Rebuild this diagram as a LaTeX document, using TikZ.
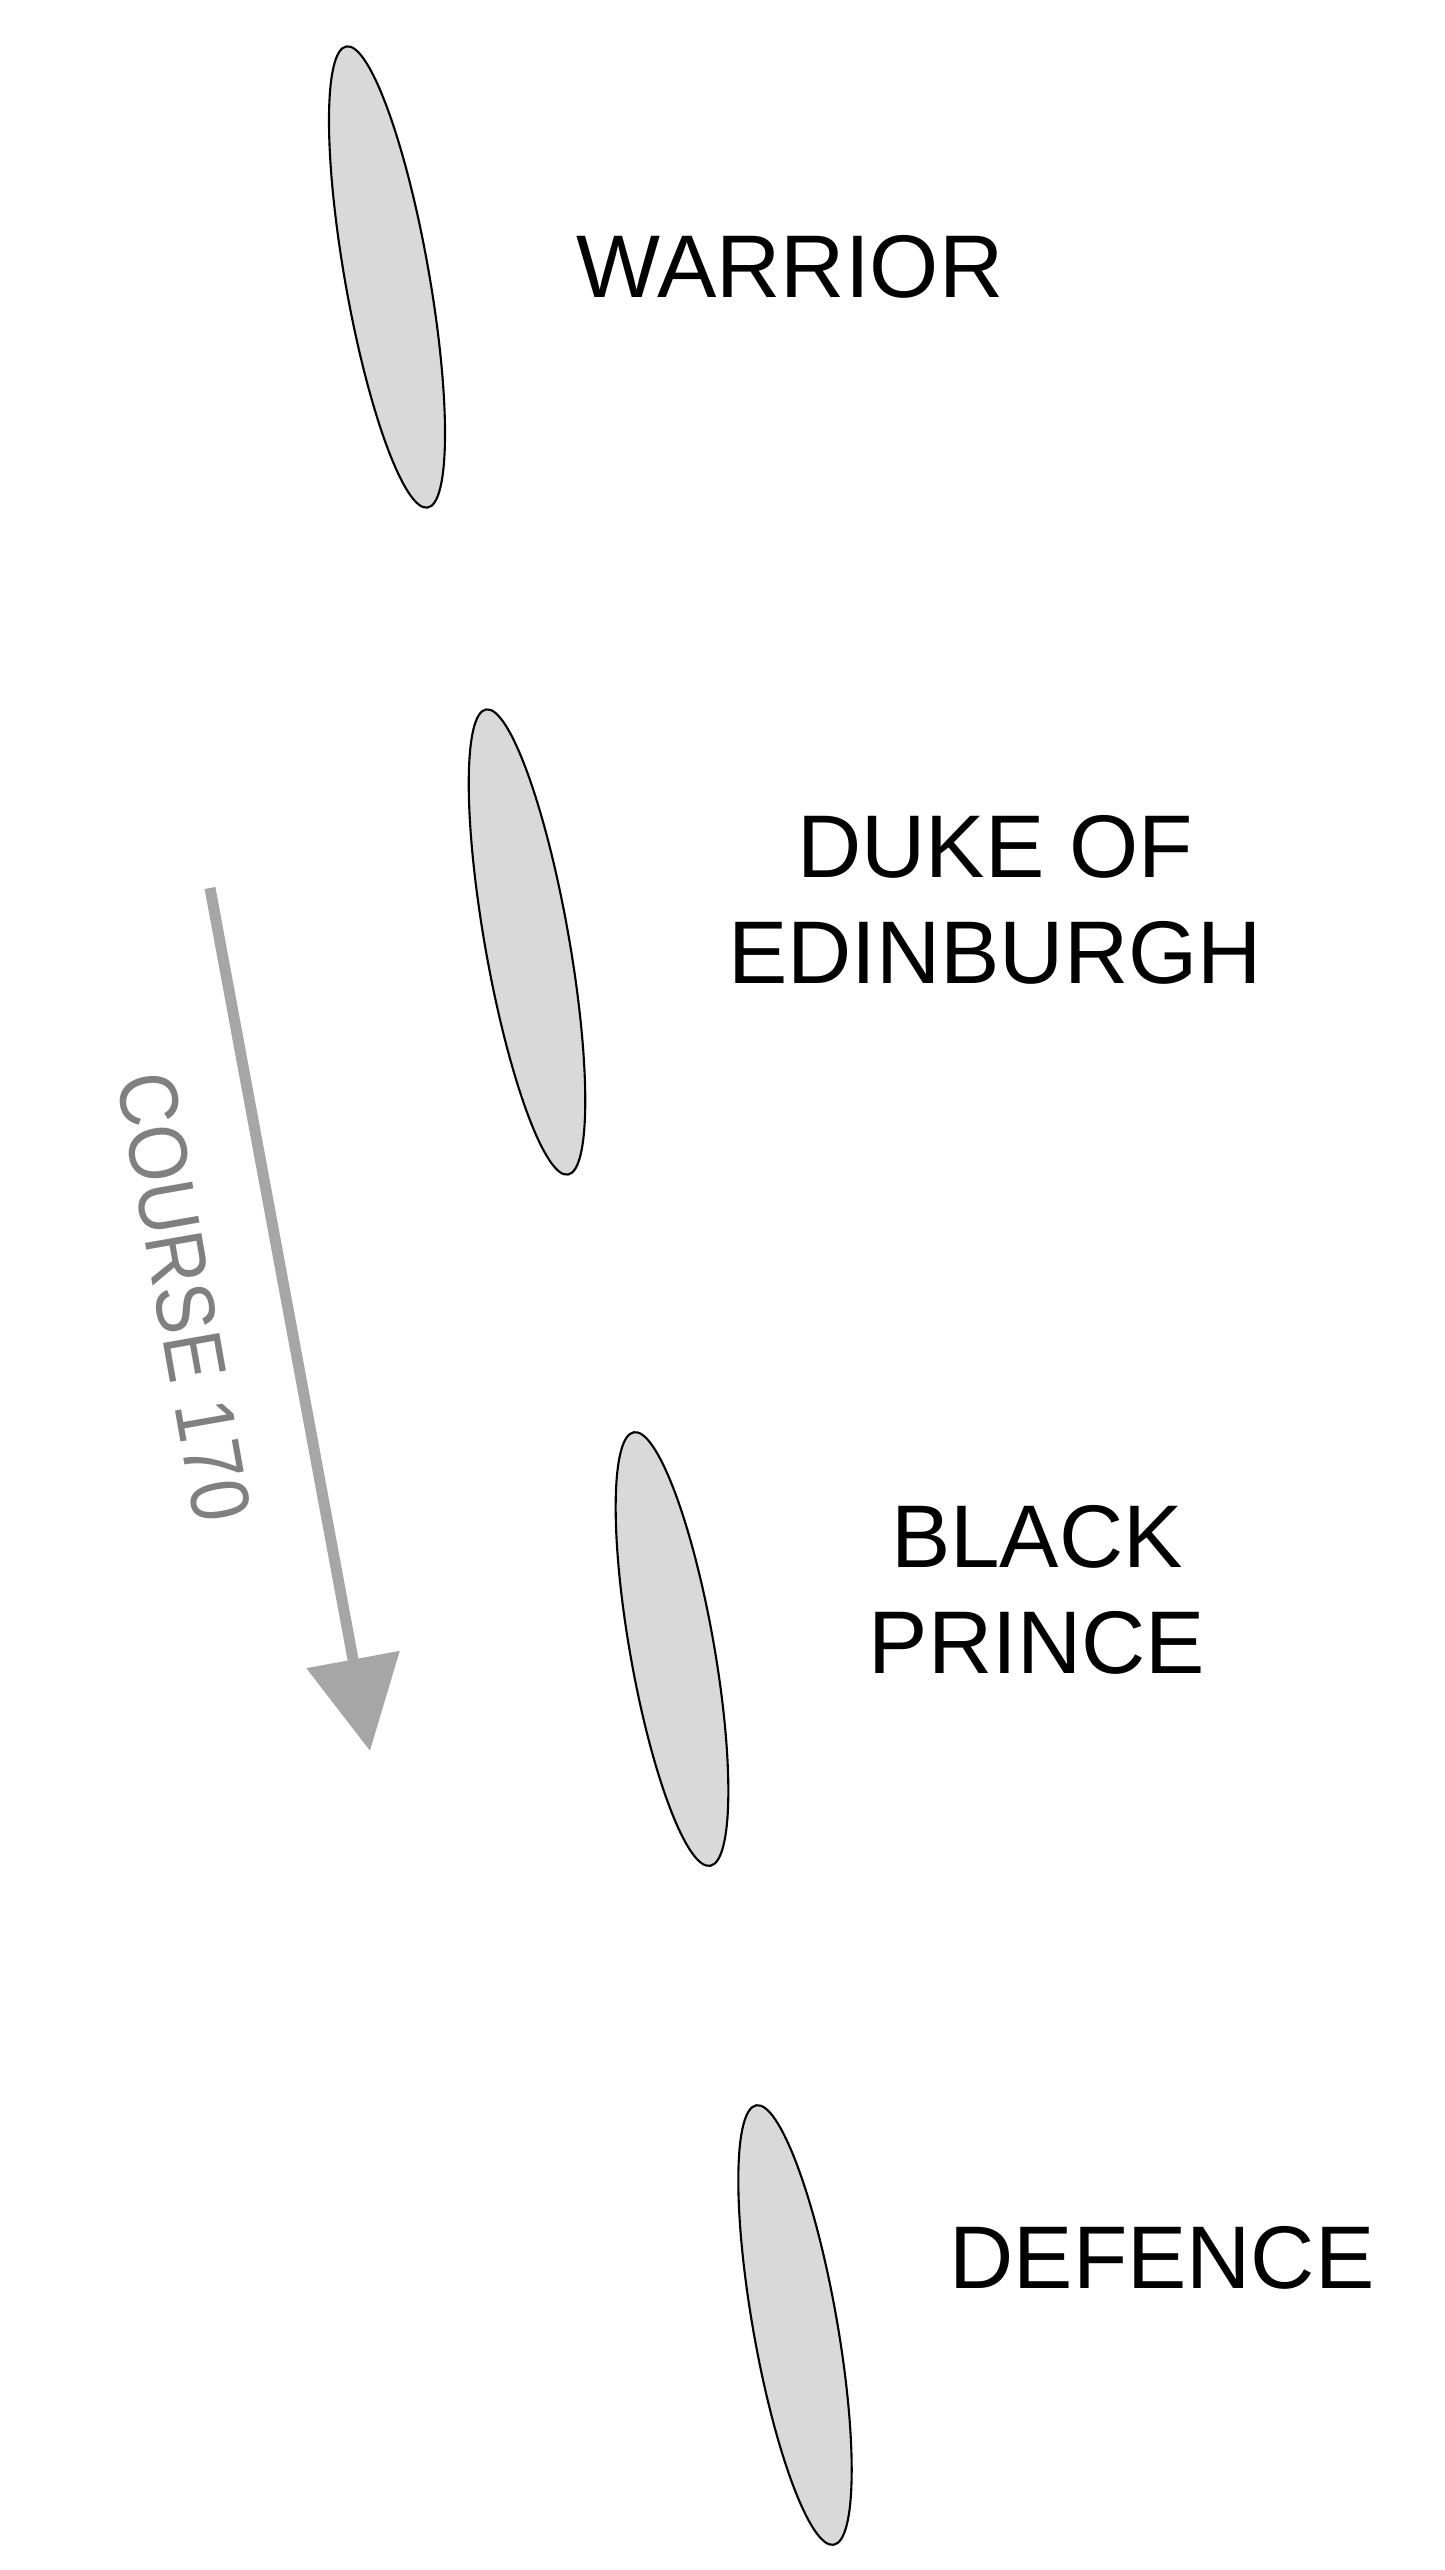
\documentclass[tikz,border=0pt]{standalone}
\usepackage{fontspec}
\setmainfont{Liberation Sans}
\newfontfamily\coursefont[FakeStretch=0.88]{Liberation Sans}
\usepackage{xcolor}
\usepackage{tikz}
\usetikzlibrary{shapes.geometric, arrows.meta}

\definecolor{hullgray}{HTML}{D9D9D9}
\definecolor{arrowgray}{HTML}{A6A6A6}
\definecolor{coursegray}{HTML}{808080}

\begin{document}
\begin{tikzpicture}[x=0.01cm, y=-0.01cm, inner sep=0, outer sep=0,
        ship/.style={ellipse, draw=black, line width=0.6pt, fill=hullgray, minimum width=0.84cm, rotate=10},
        shipname/.style={align=center, font=\fontsize{25.3pt}{30.3pt}\selectfont}]

        \useasboundingbox (0,0) rectangle (1444,2570);

        % line ahead
        \node [ship, minimum height=4.68cm] (warrior) at (387,277) {};
        \node [ship, minimum height=4.72cm] (duke) at (527,942) {};
        \node [ship, minimum height=4.40cm] (prince) at (672,1649) {};
        \node [ship, minimum height=4.46cm] (defence) at (795,2325) {};

        \node [shipname] (warriorname) at (790,267) {WARRIOR};
        \node [shipname] (dukename) at (995,900) {DUKE OF\\EDINBURGH};
        \node [shipname] (princename) at (1037,1590) {BLACK\\PRINCE};
        \node [shipname] (defencename) at (1162,2258) {DEFENCE};

        % course
        \coordinate (coursestart) at (210,888);
        \coordinate (courseend) at (370,1751);
        \draw [arrowgray, line width=0.11cm, -{Triangle[length=0.93cm, width=0.92cm]}] (coursestart) -- (courseend);
        \node [coursegray, rotate=-80, font=\coursefont\fontsize{23.6pt}{28pt}\selectfont] (coursename) at (184,1297) {COURSE 170};

        \end{tikzpicture}
\end{document}
